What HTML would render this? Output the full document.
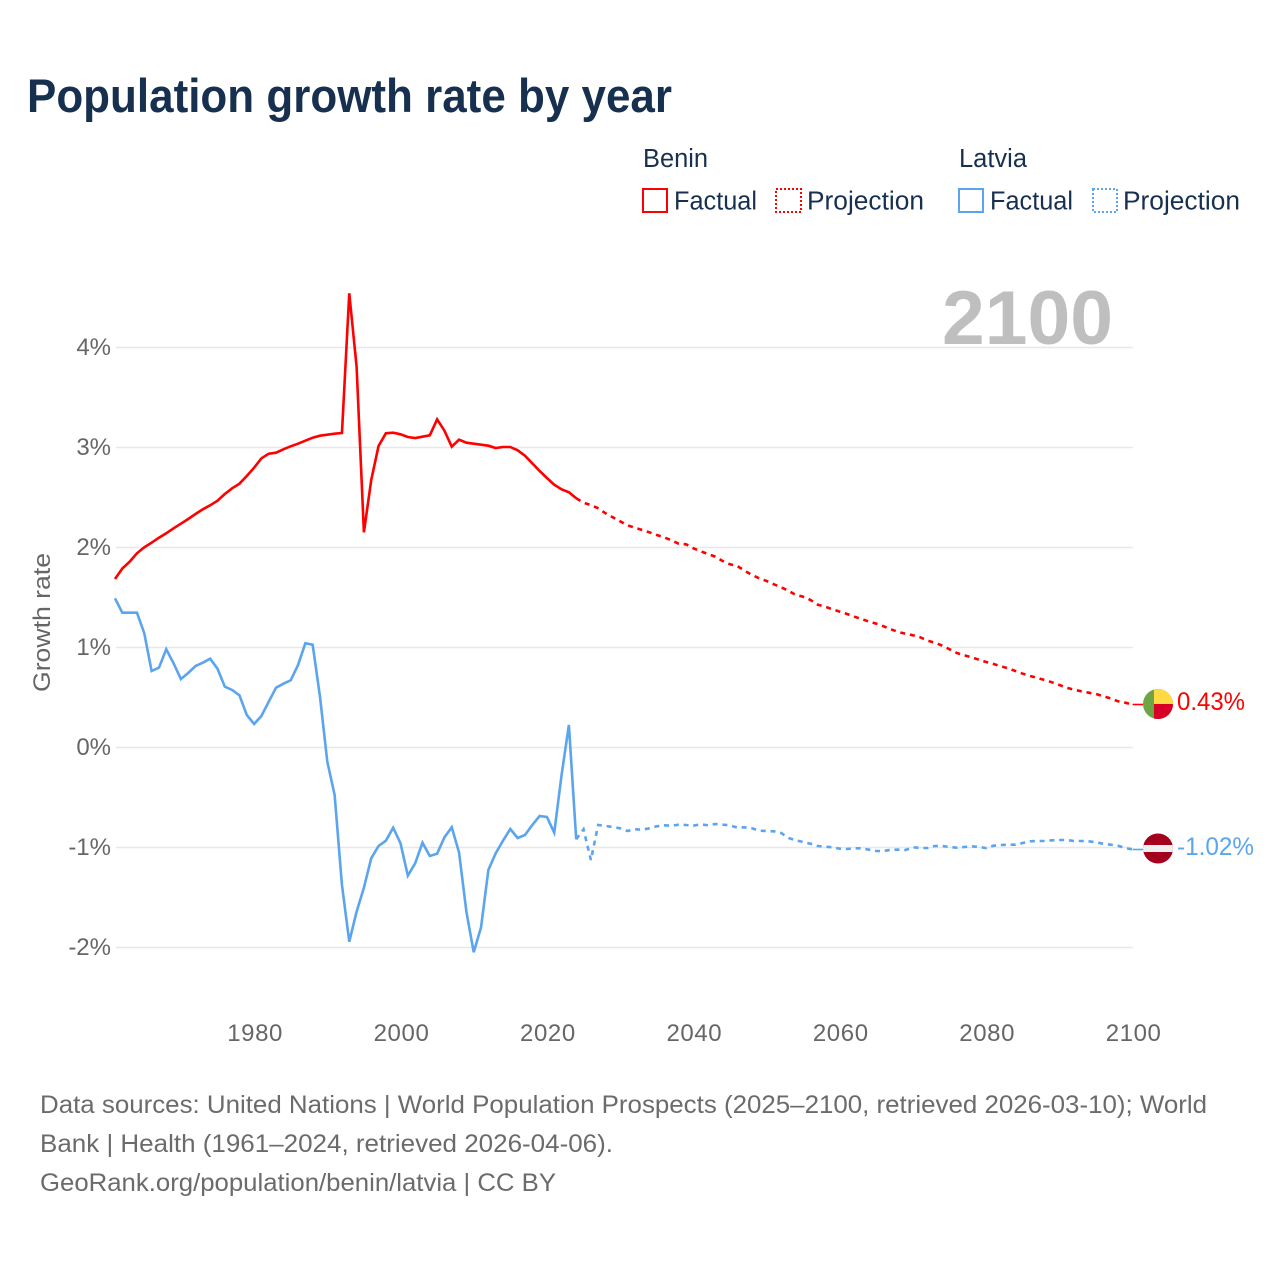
<!DOCTYPE html>
<html lang="en">
<head>
<meta charset="utf-8">
<title>Population growth rate by year</title>
<style>
  html, body { margin: 0; padding: 0; background: #ffffff; }
  svg { display: block; font-family: "Liberation Sans", sans-serif; }
</style>
</head>
<body>
<svg id="chart" width="1280" height="1280" viewBox="0 0 1280 1280" xmlns="http://www.w3.org/2000/svg">
  <rect x="0" y="0" width="1280" height="1280" fill="#ffffff"/>
  <text x="27" y="112" font-size="47" font-weight="700" fill="#17304f" textLength="645" lengthAdjust="spacingAndGlyphs">Population growth rate by year</text>

  <g font-size="25.5" fill="#17304f">
    <text x="643" y="167" textLength="65" lengthAdjust="spacingAndGlyphs">Benin</text>
    <rect x="643" y="189" width="24" height="23" fill="none" stroke="#ff0000" stroke-width="2"/>
    <text x="674" y="209.5" textLength="83" lengthAdjust="spacingAndGlyphs">Factual</text>
    <rect x="776" y="189" width="25" height="23" fill="none" stroke="#ff0000" stroke-width="2" stroke-dasharray="2,2"/>
    <text x="807" y="209.5" textLength="117" lengthAdjust="spacingAndGlyphs">Projection</text>
    <text x="959" y="167" textLength="68" lengthAdjust="spacingAndGlyphs">Latvia</text>
    <rect x="959" y="189" width="24" height="23" fill="none" stroke="#5ba4ee" stroke-width="2"/>
    <text x="990" y="209.5" textLength="83" lengthAdjust="spacingAndGlyphs">Factual</text>
    <rect x="1093" y="189" width="24" height="23" fill="none" stroke="#5ba4ee" stroke-width="2" stroke-dasharray="2,2"/>
    <text x="1123" y="209.5" textLength="117" lengthAdjust="spacingAndGlyphs">Projection</text>
  </g>

  <g id="grid"></g>
  <text x="942" y="344" font-size="76" font-weight="700" fill="#bfbfbf" textLength="171" lengthAdjust="spacingAndGlyphs">2100</text>
  <g id="y-ticks" font-size="24" fill="#666666" text-anchor="end"></g>
  <g id="x-ticks" font-size="24" fill="#666666" text-anchor="middle" letter-spacing="0.6"></g>
  <text transform="translate(50,692) rotate(-90)" font-size="24" fill="#666666" textLength="139" lengthAdjust="spacingAndGlyphs">Growth rate</text>
  <g id="series"></g>

  <g>
    <clipPath id="clip-benin"><circle cx="1158" cy="704" r="15"/></clipPath>
    <g clip-path="url(#clip-benin)">
      <rect x="1143" y="689" width="30" height="30" fill="#6da544"/>
      <rect x="1154" y="689" width="19" height="15" fill="#ffda44"/>
      <rect x="1154" y="704" width="19" height="15" fill="#d80027"/>
    </g>
  </g>
  <text x="1177" y="710" font-size="25" fill="#ff0000" textLength="68" lengthAdjust="spacingAndGlyphs">0.43%</text>
  <g>
    <clipPath id="clip-latvia"><circle cx="1158" cy="848.5" r="15"/></clipPath>
    <g clip-path="url(#clip-latvia)">
      <rect x="1143" y="833" width="30" height="31" fill="#a2001d"/>
      <rect x="1143" y="845" width="30" height="7" fill="#eeeeee"/>
    </g>
  </g>
  <text x="1177" y="855" font-size="25" fill="#5ba4ee" textLength="77" lengthAdjust="spacingAndGlyphs">-1.02%</text>

  <g font-size="25" fill="#6b6b6b">
    <text x="40" y="1113" textLength="1167" lengthAdjust="spacingAndGlyphs">Data sources: United Nations | World Population Prospects (2025–2100, retrieved 2026-03-10); World</text>
    <text x="40" y="1152" textLength="573" lengthAdjust="spacingAndGlyphs">Bank | Health (1961–2024, retrieved 2026-04-06).</text>
    <text x="40" y="1191" textLength="516" lengthAdjust="spacingAndGlyphs">GeoRank.org/population/benin/latvia | CC BY</text>
  </g>
</svg>

<script>
const yTickValues = [4, 3, 2, 1, 0, -1, -2];
const yTickLabels = ['4%', '3%', '2%', '1%', '0%', '-1%', '-2%'];
const xTickYears = [1980, 2000, 2020, 2040, 2060, 2080, 2100];
const xTickLabels = ['1980', '2000', '2020', '2040', '2060', '2080', '2100'];

const factualStartYear = 1961;
const projectionStartYear = 2024;

const beninFactual = [1.685, 1.79, 1.858, 1.942, 2.002, 2.048, 2.098, 2.142, 2.192, 2.238,
  2.285, 2.335, 2.382, 2.422, 2.468, 2.535, 2.592, 2.638, 2.715, 2.798,
  2.892, 2.938, 2.948, 2.982, 3.012, 3.038, 3.068, 3.098, 3.118, 3.128,
  3.138, 3.145, 4.542, 3.808, 2.152, 2.675, 3.015, 3.142, 3.148, 3.132,
  3.105, 3.095, 3.108, 3.122, 3.282, 3.168, 3.008, 3.078, 3.048, 3.038,
  3.028, 3.018, 2.995, 3.005, 3.005, 2.972, 2.918, 2.842, 2.765, 2.695,
  2.628, 2.582, 2.552, 2.492];

const beninProjection = [2.492, 2.448, 2.425, 2.392, 2.342, 2.302, 2.262, 2.222, 2.198, 2.175,
  2.152, 2.125, 2.102, 2.072, 2.038, 2.032, 1.992, 1.962, 1.935, 1.908,
  1.865, 1.832, 1.815, 1.768, 1.725, 1.692, 1.665, 1.632, 1.602, 1.568,
  1.525, 1.508, 1.475, 1.428, 1.408, 1.382, 1.358, 1.335, 1.308, 1.285,
  1.258, 1.238, 1.212, 1.182, 1.155, 1.138, 1.122, 1.102, 1.068, 1.048,
  1.018, 0.982, 0.945, 0.922, 0.902, 0.878, 0.855, 0.835, 0.812, 0.792,
  0.765, 0.738, 0.715, 0.695, 0.675, 0.652, 0.625, 0.598, 0.578, 0.562,
  0.548, 0.535, 0.512, 0.492, 0.462, 0.448, 0.43];

const latviaFactual = [1.492, 1.348, 1.348, 1.348, 1.142, 0.765, 0.798, 0.982, 0.842, 0.685,
  0.745, 0.815, 0.848, 0.888, 0.788, 0.608, 0.575, 0.522, 0.325, 0.235,
  0.315, 0.458, 0.598, 0.638, 0.672, 0.825, 1.042, 1.028, 0.508, -0.142,
  -0.475, -1.375, -1.942, -1.642, -1.402, -1.108, -0.985, -0.932, -0.802, -0.958,
  -1.282, -1.158, -0.952, -1.085, -1.062, -0.898, -0.798, -1.052, -1.642, -2.048,
  -1.798, -1.225, -1.058, -0.932, -0.815, -0.905, -0.875, -0.775, -0.685, -0.695,
  -0.852, -0.275, 0.225, -0.918];

const latviaProjection = [-0.918, -0.818, -1.125, -0.775, -0.785, -0.795, -0.808, -0.835, -0.818, -0.822,
  -0.808, -0.788, -0.778, -0.782, -0.772, -0.775, -0.782, -0.768, -0.778, -0.765,
  -0.772, -0.778, -0.802, -0.798, -0.808, -0.832, -0.835, -0.838, -0.855, -0.905,
  -0.928, -0.945, -0.962, -0.985, -0.992, -0.998, -1.012, -1.015, -1.008, -1.008,
  -1.022, -1.035, -1.035, -1.022, -1.022, -1.025, -0.998, -1.005, -1.005, -0.985,
  -0.985, -0.995, -1.002, -0.995, -0.988, -0.995, -1.005, -0.982, -0.975, -0.972,
  -0.972, -0.955, -0.938, -0.935, -0.935, -0.928, -0.925, -0.925, -0.935, -0.935,
  -0.938, -0.948, -0.962, -0.972, -0.982, -1.005, -1.02];

const SVG_NS = 'http://www.w3.org/2000/svg';
const plotLeft = 115;
const plotRight = 1132.6;
const gridLeft = 115.7;
const gridRight = 1133;
const flagLeft = 1143;

function xScale(year) {
  return plotLeft + (year - factualStartYear) * (plotRight - plotLeft) / (2100 - factualStartYear);
}
function yScale(value) {
  return 747.5 - value * 100;
}
function linePath(values, startYear) {
  return values.map(function (v, i) {
    return (i === 0 ? 'M' : 'L') + xScale(startYear + i).toFixed(2) + ' ' + yScale(v).toFixed(2);
  }).join(' ');
}

const gridGroup = document.getElementById('grid');
const yTickGroup = document.getElementById('y-ticks');
const xTickGroup = document.getElementById('x-ticks');
const seriesGroup = document.getElementById('series');

yTickValues.forEach(function (value, i) {
  const line = document.createElementNS(SVG_NS, 'line');
  
  
  line.setAttribute('x1', gridLeft);
  line.setAttribute('x2', gridRight);
  line.setAttribute('y1', yScale(value));
  line.setAttribute('y2', yScale(value));
  line.setAttribute('stroke', '#e8e8e8');
  line.setAttribute('stroke-width', '1.4');
  gridGroup.appendChild(line);

  const label = document.createElementNS(SVG_NS, 'text');
  
  
  label.setAttribute('x', 111);
  label.setAttribute('y', yScale(value) + 7.5);
  label.textContent = yTickLabels[i];
  yTickGroup.appendChild(label);
});

xTickYears.forEach(function (year, i) {
  const label = document.createElementNS(SVG_NS, 'text');
  
  
  label.setAttribute('x', xScale(year) + 1);
  label.setAttribute('y', 1041);
  label.textContent = xTickLabels[i];
  xTickGroup.appendChild(label);
});

const beninFactualLine = document.createElementNS(SVG_NS, 'path');


beninFactualLine.setAttribute('d', linePath(beninFactual, factualStartYear));
beninFactualLine.setAttribute('fill', 'none');
beninFactualLine.setAttribute('stroke', '#ff0000');
beninFactualLine.setAttribute('stroke-width', '2.6');
seriesGroup.appendChild(beninFactualLine);

const beninProjectionLine = document.createElementNS(SVG_NS, 'path');


beninProjectionLine.setAttribute('d', linePath(beninProjection, projectionStartYear));
beninProjectionLine.setAttribute('fill', 'none');
beninProjectionLine.setAttribute('stroke', '#ff0000');
beninProjectionLine.setAttribute('stroke-width', '2.6');
beninProjectionLine.setAttribute('stroke-dasharray', '5 4.8');
seriesGroup.appendChild(beninProjectionLine);

const latviaFactualLine = document.createElementNS(SVG_NS, 'path');


latviaFactualLine.setAttribute('d', linePath(latviaFactual, factualStartYear));
latviaFactualLine.setAttribute('fill', 'none');
latviaFactualLine.setAttribute('stroke', '#5ba4ee');
latviaFactualLine.setAttribute('stroke-width', '2.6');
seriesGroup.appendChild(latviaFactualLine);

const latviaProjectionLine = document.createElementNS(SVG_NS, 'path');


latviaProjectionLine.setAttribute('d', linePath(latviaProjection, projectionStartYear));
latviaProjectionLine.setAttribute('fill', 'none');
latviaProjectionLine.setAttribute('stroke', '#5ba4ee');
latviaProjectionLine.setAttribute('stroke-width', '2.6');
latviaProjectionLine.setAttribute('stroke-dasharray', '5 4.8');
seriesGroup.appendChild(latviaProjectionLine);

const beninConnector = document.createElementNS(SVG_NS, 'line');


beninConnector.setAttribute('x1', xScale(2100));
beninConnector.setAttribute('x2', flagLeft);
beninConnector.setAttribute('y1', yScale(beninProjection[beninProjection.length - 1]));
beninConnector.setAttribute('y2', yScale(beninProjection[beninProjection.length - 1]));
beninConnector.setAttribute('stroke', '#ff0000');
beninConnector.setAttribute('stroke-width', '1.6');
seriesGroup.appendChild(beninConnector);

const latviaConnector = document.createElementNS(SVG_NS, 'line');


latviaConnector.setAttribute('x1', xScale(2100));
latviaConnector.setAttribute('x2', flagLeft);
latviaConnector.setAttribute('y1', yScale(latviaProjection[latviaProjection.length - 1]));
latviaConnector.setAttribute('y2', yScale(latviaProjection[latviaProjection.length - 1]));
latviaConnector.setAttribute('stroke', '#5ba4ee');
latviaConnector.setAttribute('stroke-width', '1.6');
seriesGroup.appendChild(latviaConnector);
</script>
</body>
</html>
